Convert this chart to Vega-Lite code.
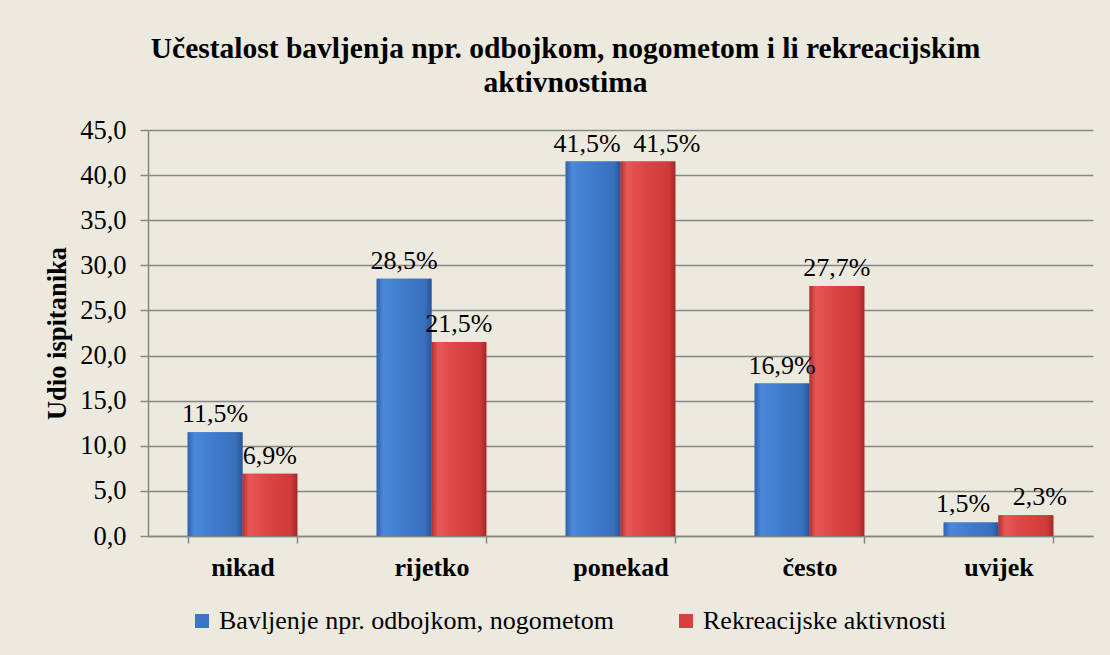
{
  "$schema": "https://vega.github.io/schema/vega-lite/v6.json",
  "width": 945,
  "height": 406,
  "autosize": {"type": "none"},
  "padding": {"left": 148, "top": 130, "right": 17, "bottom": 119},
  "background": "#ECE9DF",
  "title": {
    "text": ["Učestalost bavljenja npr. odbojkom, nogometom i li rekreacijskim", "aktivnostima"],
    "font": "Liberation Serif",
    "fontSize": 29.5,
    "fontWeight": "bold",
    "color": "#000000",
    "lineHeight": 34,
    "anchor": "middle",
    "frame": "group",
    "dx": -55,
    "offset": 19
  },
  "data": {
    "values": [
      {"cat": "nikad", "series": "Bavljenje npr. odbojkom, nogometom", "value": 11.5, "label": "11,5%"},
      {"cat": "nikad", "series": "Rekreacijske aktivnosti", "value": 6.9, "label": "6,9%"},
      {"cat": "rijetko", "series": "Bavljenje npr. odbojkom, nogometom", "value": 28.5, "label": "28,5%"},
      {"cat": "rijetko", "series": "Rekreacijske aktivnosti", "value": 21.5, "label": "21,5%"},
      {"cat": "ponekad", "series": "Bavljenje npr. odbojkom, nogometom", "value": 41.5, "label": "41,5%"},
      {"cat": "ponekad", "series": "Rekreacijske aktivnosti", "value": 41.5, "label": "41,5%"},
      {"cat": "često", "series": "Bavljenje npr. odbojkom, nogometom", "value": 16.9, "label": "16,9%"},
      {"cat": "često", "series": "Rekreacijske aktivnosti", "value": 27.7, "label": "27,7%"},
      {"cat": "uvijek", "series": "Bavljenje npr. odbojkom, nogometom", "value": 1.5, "label": "1,5%"},
      {"cat": "uvijek", "series": "Rekreacijske aktivnosti", "value": 2.3, "label": "2,3%"}
    ]
  },
  "encoding": {
    "x": {
      "field": "cat",
      "type": "nominal",
      "sort": ["nikad", "rijetko", "ponekad", "često", "uvijek"],
      "scale": {"paddingInner": 0.42, "paddingOuter": 0.21},
      "axis": {
        "title": null,
        "labelAngle": 0,
        "labelFont": "Liberation Serif",
        "labelFontSize": 26,
        "labelFontWeight": "bold",
        "labelColor": "#000000",
        "tickBand": "extent",
        "tickSize": 7,
        "tickColor": "#868686",
        "tickWidth": 1.5,
        "domainColor": "#868686",
        "domainWidth": 1.5,
        "labelPadding": 11,
        "grid": false
      }
    },
    "xOffset": {"field": "series", "type": "nominal", "sort": ["Bavljenje npr. odbojkom, nogometom", "Rekreacijske aktivnosti"]},
    "y": {
      "field": "value",
      "type": "quantitative",
      "scale": {"domain": [0, 45], "nice": false},
      "axis": {
        "title": "Udio ispitanika",
        "titleFont": "Liberation Serif",
        "titleFontSize": 26.5,
        "titleFontWeight": "bold",
        "titleColor": "#000000",
        "titlePadding": 8,
        "values": [0, 5, 10, 15, 20, 25, 30, 35, 40, 45],
        "labelExpr": "replace(format(datum.value, '.1f'), '.', ',')",
        "labelFont": "Liberation Serif",
        "labelFontSize": 26.5,
        "labelColor": "#000000",
        "labelPadding": 14,
        "tickSize": 8,
        "tickColor": "#868686",
        "tickWidth": 1.5,
        "domainColor": "#868686",
        "domainWidth": 1.5,
        "grid": true,
        "gridColor": "#868686",
        "gridWidth": 1.5
      }
    }
  },
  "layer": [
    {
      "mark": {"type": "bar"},
      "encoding": {
        "color": {
          "field": "series",
          "type": "nominal",
          "scale": {"domain": ["Bavljenje npr. odbojkom, nogometom", "Rekreacijske aktivnosti"], "range": ["#3b76c6", "#d6403f"]},
          "legend": {
            "orient": "none",
            "legendX": 41,
            "legendY": 478,
            "direction": "horizontal",
            "title": null,
            "symbolType": "square",
            "symbolSize": 196,
            "symbolStrokeWidth": 0,
            "labelFont": "Liberation Serif",
            "labelFontSize": 26,
            "labelColor": "#000000",
            "labelLimit": 0,
            "labelOffset": 4,
            "columnPadding": 58
          }
        }
      }
    },
    {
      "mark": {"type": "bar"},
      "encoding": {
        "fill": {
          "condition": {
            "test": "datum.series === 'Bavljenje npr. odbojkom, nogometom'",
            "value": {"gradient": "linear", "x1": 0, "y1": 0, "x2": 1, "y2": 0, "stops": [
              {"offset": 0, "color": "#2f62ad"},
              {"offset": 0.12, "color": "#4a89d8"},
              {"offset": 0.5, "color": "#3f7bcb"},
              {"offset": 0.88, "color": "#3870bd"},
              {"offset": 1, "color": "#2a5497"}
            ]}
          },
          "value": {"gradient": "linear", "x1": 0, "y1": 0, "x2": 1, "y2": 0, "stops": [
            {"offset": 0, "color": "#b3302f"},
            {"offset": 0.12, "color": "#e65856"},
            {"offset": 0.5, "color": "#da4341"},
            {"offset": 0.88, "color": "#cf3b3a"},
            {"offset": 1, "color": "#a32827"}
          ]}
        }
      }
    },
    {
      "mark": {
        "type": "text",
        "font": "Liberation Serif",
        "fontSize": 26,
        "color": "#000000",
        "baseline": "alphabetic",
        "dy": -10,
        "dx": {"expr": "datum.cat === 'ponekad' ? (datum.series === 'Rekreacijske aktivnosti' ? 19 : -6) : datum.cat === 'uvijek' ? (datum.series === 'Rekreacijske aktivnosti' ? 14 : -8) : 0"}
      },
      "encoding": {
        "text": {"field": "label", "type": "nominal"}
      }
    }
  ],
  "config": {"view": {"stroke": null}, "font": "Liberation Serif"}
}
